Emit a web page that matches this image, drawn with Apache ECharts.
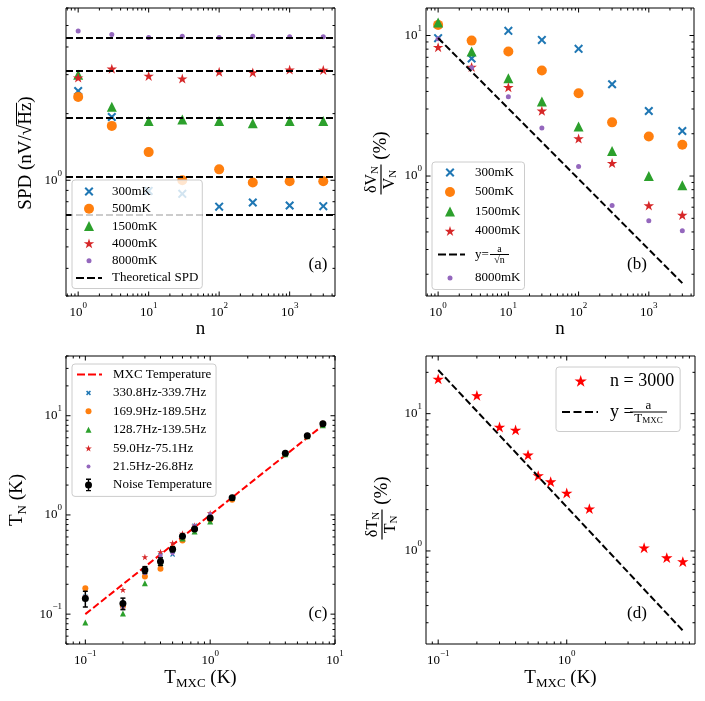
<!DOCTYPE html>
<html><head><meta charset="utf-8">
<script src="https://cdn.jsdelivr.net/npm/echarts@6.0.0/dist/echarts.min.js"></script>
<style>html,body{margin:0;padding:0;background:#fff;}#chart{width:705px;height:701px;}</style>
</head><body><div id="chart"></div>
<script>
// ================= DATA =================
const nValues = [1, 3, 10, 30, 100, 300, 1000, 3000];
const tempNames = ['300mK', '500mK', '1500mK', '4000mK', '8000mK'];
// (a) SPD (nV/sqrt(Hz))
const spd300  = [2.53, 1.93, 0.895, 0.868, 0.76, 0.793, 0.769, 0.764];
const spd500  = [2.38, 1.76, 1.34, 1.0, 1.12, 0.976, 0.99, 0.99];
const spd1500 = [3.0, 2.15, 1.85, 1.88, 1.85, 1.81, 1.85, 1.85];
const spd4000 = [2.9, 3.18, 2.95, 2.87, 3.08, 3.06, 3.15, 3.14];
const spd8000 = [4.72, 4.55, 4.42, 4.47, 4.42, 4.47, 4.45, 4.45];
const spdTheory = [0.698, 1.04, 1.92, 3.14, 4.42];
// (b) dV/V (%)
const rel300  = [9.58, 6.86, 10.8, 9.31, 8.04, 4.5, 2.9, 2.09];
const rel500  = [11.9, 9.2, 7.69, 5.63, 3.88, 2.41, 1.91, 1.67];
const rel1500 = [12.4, 7.69, 4.97, 3.39, 2.25, 1.51, 1.0, 0.86];
const rel4000 = [8.22, 5.95, 4.26, 2.9, 1.84, 1.23, 0.614, 0.525];
const rel8000 = [9.47, 5.9, 3.67, 2.2, 1.17, 0.618, 0.48, 0.408];
const fitBx = [1, 3000];
const fitBy = [9.6, 0.173];
// (c) T_N vs T_MXC (K)
const tMxc = [0.1, 0.2, 0.3, 0.4, 0.5, 0.6, 0.75, 1.0, 1.5, 4, 6, 8];
const bandNames = ['330.8Hz-339.7Hz', '169.9Hz-189.5Hz', '128.7Hz-139.5Hz', '59.0Hz-75.1Hz', '21.5Hz-26.8Hz'];
const tn330 = [0.15, 0.117, 0.265, 0.39, 0.40, 0.60, 0.78, 0.95, 1.45, 4.1, 6.2, 8.2];
const tn170 = [0.182, 0.12, 0.239, 0.286, 0.46, 0.553, 0.72, 0.9, 1.42, 4.1, 6.2, 8.3];
const tn129 = [0.0824, 0.1016, 0.205, 0.33, 0.45, 0.58, 0.68, 0.86, 1.48, 4.1, 6.2, 8.0];
const tn59  = [0.15, 0.175, 0.375, 0.421, 0.52, 0.647, 0.78, 1.04, 1.5, 4.2, 6.3, 8.4];
const tn21  = [0.15, 0.117, 0.258, 0.39, 0.41, 0.62, 0.78, 1.02, 1.5, 4.2, 6.3, 8.3];
const tnNoise = [0.144, 0.128, 0.279, 0.339, 0.452, 0.608, 0.72, 0.933, 1.49, 4.19, 6.27, 8.3];
const tnErr   = [0.026, 0.017, 0.022, 0.03, 0.025, 0.02, 0.02, 0.03, 0.04, 0.1, 0.12, 0.15];
const mxcX = [0.1, 8];
const mxcY = [0.1, 8];
// (d) dT/T (%) at n = 3000
const relT3000 = [17.8, 13.5, 7.95, 7.57, 4.98, 3.52, 3.18, 2.63, 2.02, 1.05, 0.889, 0.832];
const fitDx = [0.1, 8];
const fitDy = [20.8, 0.263];

// ================= STYLE / LAYOUT =================
const FONT = '"Liberation Serif", "Times New Roman", serif';
const C = {blue:'#1f77b4', orange:'#ff7f0e', green:'#2ca02c', red:'#d62728', purple:'#9467bd'};
const ranges = [
  {x:[0.672, 4400], y:[0.3, 6]},
  {x:[0.672, 4400], y:[0.14, 15.7]},
  {x:[0.07, 10],    y:[0.05, 40]},
  {x:[0.0804, 9.95], y:[0.21, 26.3]}
];
const gridBoxes = [
  {left:66, top:8, width:269, height:288},
  {left:426, top:8, width:268, height:288},
  {left:66, top:356, width:269, height:288},
  {left:426, top:356, width:269, height:288}
];

// ---- symbol geometry ----
function f(v){ return (+v).toFixed(2); }
function circ(cx, cy, r){ return `M${f(cx-r)},${f(cy)}A${r},${r} 0 1 1 ${f(cx+r)},${f(cy)}A${r},${r} 0 1 1 ${f(cx-r)},${f(cy)}Z`; }
function tri(cx, cy, s){ const h=s/2; return `M${f(cx)},${f(cy-h)}L${f(cx+h)},${f(cy+h)}L${f(cx-h)},${f(cy+h)}Z`; }
function star(cx, cy, R){ let d=''; const r=R*0.381966; for(let k=0;k<10;k++){ const a=k*Math.PI/5, rr=k%2?r:R; d+=(k?'L':'M')+f(cx+rr*Math.sin(a))+','+f(cy-rr*Math.cos(a)); } return d+'Z'; }
function xmk(cx, cy, s, t){ const h=s/2; const P=[[cx-h,cy-h+t],[cx-h+t,cy-h],[cx,cy-t],[cx+h-t,cy-h],[cx+h,cy-h+t],[cx+t,cy],[cx+h,cy+h-t],[cx+h-t,cy+h],[cx,cy+t],[cx-h+t,cy+h],[cx-h,cy+h-t],[cx-t,cy]]; return P.map((p,i)=>(i?'L':'M')+f(p[0])+','+f(p[1])).join('')+'Z'; }
function dashes(y, x0, x1, lw, on, off){ let d='', x=x0; while(x < x1-0.01){ const e=Math.min(x+on,x1); d+=`M${f(x)},${f(y-lw/2)}L${f(e)},${f(y-lw/2)}L${f(e)},${f(y+lw/2)}L${f(x)},${f(y+lw/2)}Z`; x+=on+off; } return d; }
function box(W,H){ return `path://M0,0M${W},${H}`; }

const symX = 'path://' + xmk(5,5,10,1.6);
const symStar = 'path://M0,0M100,100' + star(50,52,50);

// ---- helpers ----
function pairs(xs, ys){ return xs.map((x,i)=>[x, ys[i]]); }
function scatter(name, gi, xs, ys, symbol, size, color, z){
  return {type:'scatter', name, xAxisIndex:gi, yAxisIndex:gi, symbol, symbolSize:size, symbolKeepAspect:true,
    itemStyle:{color, opacity:1}, data:pairs(xs, ys), z:z||2, silent:true, animation:false};
}
function dashLine(name, gi, xs, ys, color, z){
  return {type:'line', name, xAxisIndex:gi, yAxisIndex:gi, data:pairs(xs, ys), symbol:'none', showSymbol:false,
    lineStyle:{color, width:2, type:[7,3]}, itemStyle:{color}, z:z||3, silent:true, animation:false};
}
function powLabel(v){
  const e = Math.log10(v), r = Math.round(e);
  if (Math.abs(e-r) > 1e-6) return '';
  return '{b|10}{s|' + (r<0 ? '\u2212'+(-r) : r) + '}';
}
const supRich = {
  b:{fontFamily:FONT, fontSize:13, color:'#000', verticalAlign:'middle'},
  s:{fontFamily:FONT, fontSize:9, color:'#000', padding:[0,0,14,0], verticalAlign:'middle'}
};
function logAxis(gi, r, isX, name, nameRich){
  const ax = {type:'log', logBase:10, gridIndex:gi, min:r[0], max:r[1],
    axisLine:{show:false}, axisTick:{show:false}, minorTick:{show:false}, splitLine:{show:false}, minorSplitLine:{show:false},
    axisLabel:{formatter:powLabel, rich:supRich, margin:isX?5:4, hideOverlap:false, showMinLabel:true, showMaxLabel:true, color:'#000'},
    silent:true};
  if (name){
    ax.name = name; ax.nameLocation = 'middle'; ax.nameGap = 22;
    ax.nameTextStyle = Object.assign({fontFamily:FONT, fontSize:19, color:'#000'}, nameRich ? {rich:nameRich} : {});
  }
  return ax;
}
function tickList(lo, hi){
  const out=[];
  for (let e=Math.floor(Math.log10(lo))-1; e<=Math.ceil(Math.log10(hi)); e++){
    for (let m=1;m<10;m++){ const v=m*Math.pow(10,e); if (v>=lo*0.9999 && v<=hi*1.0001) out.push([v, m===1]); }
  }
  return out;
}
// tick marks on all four sides, drawn as tiny rect symbols placed through the axes' own scales
function tickSeries(gi){
  const r = ranges[gi];
  const data = [];
  tickList(r.x[0], r.x[1]).forEach(t=>{
    const L = t[1] ? 4.5 : 2.5;
    data.push({value:[t[0], r.y[0]], symbolSize:[1, L], symbolOffset:[0, -L/2]});
    data.push({value:[t[0], r.y[1]], symbolSize:[1, L], symbolOffset:[0, L/2]});
  });
  tickList(r.y[0], r.y[1]).forEach(t=>{
    const L = t[1] ? 4.5 : 2.5;
    data.push({value:[r.x[0], t[0]], symbolSize:[L, 1], symbolOffset:[L/2, 0]});
    data.push({value:[r.x[1], t[0]], symbolSize:[L, 1], symbolOffset:[-L/2, 0]});
  });
  return {type:'scatter', name:'ticks'+gi, xAxisIndex:gi, yAxisIndex:gi, symbol:'rect', clip:false, silent:true,
    itemStyle:{color:'#000', opacity:1}, data, z:10, animation:false};
}

// ---- series ----
const series = [];
// (a)
series.push(scatter('300mK',0,nValues,spd300,symX,9,C.blue));
series.push(scatter('500mK',0,nValues,spd500,'circle',10,C.orange));
series.push(scatter('1500mK',0,nValues,spd1500,'triangle',10,C.green));
series.push(scatter('4000mK',0,nValues,spd4000,symStar,11,C.red));
series.push(scatter('8000mK',0,nValues,spd8000,'circle',5,C.purple));
series.push({type:'line', name:'Theoretical SPD', xAxisIndex:0, yAxisIndex:0, data:[], symbol:'none',
  lineStyle:{color:'#000', width:2, type:[7,3]}, itemStyle:{color:'#000'}, z:3, silent:true, animation:false,
  markLine:{silent:true, symbol:'none', label:{show:false}, animation:false,
    lineStyle:{color:'#000', width:2, type:[7,3]}, emphasis:{disabled:true},
    data: spdTheory.map(v=>({yAxis:v}))}});
// (b)
series.push(scatter('300mK',1,nValues,rel300,symX,9,C.blue));
series.push(scatter('500mK',1,nValues,rel500,'circle',10,C.orange));
series.push(scatter('1500mK',1,nValues,rel1500,'triangle',10,C.green));
series.push(scatter('4000mK',1,nValues,rel4000,symStar,11,C.red));
series.push(dashLine('fitB',1,fitBx,fitBy,'#000'));
series.push(scatter('8000mK',1,nValues,rel8000,'circle',5,C.purple));
// (c)
series.push(dashLine('MXC Temperature',2,mxcX,mxcY,'#ff0000',2));
series.push(scatter(bandNames[0],2,tMxc,tn330,symX,5,C.blue,3));
series.push(scatter(bandNames[1],2,tMxc,tn170,'circle',6,C.orange,3));
series.push(scatter(bandNames[2],2,tMxc,tn129,'triangle',6,C.green,3));
series.push(scatter(bandNames[3],2,tMxc,tn59,symStar,7,C.red,3));
series.push(scatter(bandNames[4],2,tMxc,tn21,'circle',4,C.purple,3));
series.push(scatter('Noise Temperature',2,tMxc,tnNoise,'circle',7,'#000',5));
series.push({type:'custom', name:'Noise Temperature', xAxisIndex:2, yAxisIndex:2, z:5, silent:true, animation:false,
  itemStyle:{color:'#000'},
  data: tMxc.map((x,i)=>[x, tnNoise[i]-tnErr[i], tnNoise[i]+tnErr[i]]),
  renderItem:function(params, api){
    const lo = api.coord([api.value(0), api.value(1)]);
    const hi = api.coord([api.value(0), api.value(2)]);
    const st = {stroke:'#000', lineWidth:1.5};
    return {type:'group', children:[
      {type:'line', shape:{x1:lo[0],y1:lo[1],x2:hi[0],y2:hi[1]}, style:st},
      {type:'line', shape:{x1:lo[0]-2.5,y1:lo[1],x2:lo[0]+2.5,y2:lo[1]}, style:st},
      {type:'line', shape:{x1:hi[0]-2.5,y1:hi[1],x2:hi[0]+2.5,y2:hi[1]}, style:st}]};
  }});
// (d)
series.push(scatter('n = 3000',3,tMxc,relT3000,symStar,12,'#ff0000',3));
series.push(dashLine('fitD',3,fitDx,fitDy,'#000',4));
// ticks
for (let g=0; g<4; g++) series.push(tickSeries(g));

// ---- legends ----
const legendBase = {orient:'vertical', backgroundColor:'rgba(255,255,255,0.8)', borderColor:'#cccccc', borderWidth:1,
  borderRadius:3, selectedMode:false, itemStyle:{borderWidth:0}, inactiveColor:'#000', z:20};
function mkIcon(W,H,body){ return box(W,H) + body; }
// A
const lA = {W:31, H:13, cx:13};
const legendA = Object.assign({}, legendBase, {left:72, top:180, padding:[5,4,4,4], itemGap:4.3, itemWidth:lA.W, itemHeight:lA.H,
  textStyle:{fontFamily:FONT, fontSize:13, lineHeight:13, color:'#000'},
  data:[
    {name:'300mK', icon:mkIcon(lA.W,lA.H,xmk(lA.cx,6.5,9,1.45))},
    {name:'500mK', icon:mkIcon(lA.W,lA.H,circ(lA.cx,6.5,5))},
    {name:'1500mK', icon:mkIcon(lA.W,lA.H,tri(lA.cx,6.5,10))},
    {name:'4000mK', icon:mkIcon(lA.W,lA.H,star(lA.cx,7,5.5))},
    {name:'8000mK', icon:mkIcon(lA.W,lA.H,circ(lA.cx,6.5,2.5))},
    {name:'Theoretical SPD', icon:mkIcon(lA.W,lA.H,dashes(6.5,0,26,2,8,3))}
  ]});
// B
const lB = {W:34, H:13, cx:14};
const fracRichB = {
  fp:{width:15, fontSize:9, lineHeight:9, align:'left', verticalAlign:'middle'},
  fn:{width:19, fontSize:10, lineHeight:9, align:'center', verticalAlign:'middle', fontFamily:FONT, color:'#000'},
  fy:{width:15, fontSize:13, lineHeight:2, align:'left', verticalAlign:'middle', fontFamily:FONT, color:'#000'},
  fb:{width:19, height:1, fontSize:1, lineHeight:2, align:'left', verticalAlign:'middle', backgroundColor:'#000'},
  fd:{width:19, fontSize:10, lineHeight:9, align:'center', verticalAlign:'middle', fontFamily:FONT, color:'#000'}
};
const legendB = Object.assign({}, legendBase, {left:432, top:162, padding:[4,4,5,4], itemGap:6.5, itemWidth:lB.W, itemHeight:lB.H,
  textStyle:{fontFamily:FONT, fontSize:13, lineHeight:13, color:'#000', rich:fracRichB},
  formatter:function(name){ return name==='fitB' ? '{fp| }{fn|a}\n{fy|y=}{fb| }\n{fp| }{fd|\u221an}' : name; },
  data:[
    {name:'300mK', icon:mkIcon(lB.W,lB.H,xmk(lB.cx,6.5,9,1.45))},
    {name:'500mK', icon:mkIcon(lB.W,lB.H,circ(lB.cx,6.5,5))},
    {name:'1500mK', icon:mkIcon(lB.W,lB.H,tri(lB.cx,6.5,10))},
    {name:'4000mK', icon:mkIcon(lB.W,lB.H,star(lB.cx,7,5.5))},
    {name:'fitB', icon:mkIcon(lB.W,lB.H,dashes(6.5,2,29,2,8,3))},
    {name:'8000mK', icon:mkIcon(lB.W,lB.H,circ(lB.cx,6.5,2.5))}
  ]});
// C
const lC = {W:32, H:13, cx:12.5};
const legendC = Object.assign({}, legendBase, {left:72, top:364, padding:[4,4,5,4], itemGap:5.4, itemWidth:lC.W, itemHeight:lC.H,
  textStyle:{fontFamily:FONT, fontSize:13, lineHeight:13, color:'#000'},
  data:[
    {name:'MXC Temperature', icon:mkIcon(lC.W,lC.H,dashes(6.5,1,26,2,8,3))},
    {name:bandNames[0], icon:mkIcon(lC.W,lC.H,xmk(lC.cx,6.5,5,1.1))},
    {name:bandNames[1], icon:mkIcon(lC.W,lC.H,circ(lC.cx,6.5,3))},
    {name:bandNames[2], icon:mkIcon(lC.W,lC.H,tri(lC.cx,6.5,6))},
    {name:bandNames[3], icon:mkIcon(lC.W,lC.H,star(lC.cx,7,3.5))},
    {name:bandNames[4], icon:mkIcon(lC.W,lC.H,circ(lC.cx,6.5,2))},
    {name:'Noise Temperature', icon:mkIcon(lC.W,lC.H,
      `M${lC.cx-2.5},0.2h5v1.3h-5zM${lC.cx-0.7},0.2h1.4v12.6h-1.4zM${lC.cx-2.5},11.5h5v1.3h-5z`+circ(lC.cx,6.5,3.5))}
  ]});
// D
const lD = {W:43, H:18, cx:18.7};
const fracRichD = {
  fp:{width:20, fontSize:9, lineHeight:11, align:'left', verticalAlign:'middle'},
  fn:{width:37, fontSize:13, lineHeight:11, align:'center', verticalAlign:'middle', fontFamily:FONT, color:'#000'},
  fy:{width:20, fontSize:18, lineHeight:2, align:'left', verticalAlign:'middle', fontFamily:FONT, color:'#000'},
  fb:{width:37, height:1.2, fontSize:1, lineHeight:2, align:'left', verticalAlign:'middle', backgroundColor:'#000'},
  fT:{fontSize:13, lineHeight:11, align:'center', verticalAlign:'middle', fontFamily:FONT, color:'#000'},
  fS:{fontSize:9, padding:[5,0,0,0], lineHeight:11, align:'center', verticalAlign:'middle', fontFamily:FONT, color:'#000'}
};
const legendD = Object.assign({}, legendBase, {left:556, top:367, padding:[5,6,6,6], itemGap:9, itemWidth:lD.W, itemHeight:lD.H,
  textStyle:{fontFamily:FONT, fontSize:18, lineHeight:18, color:'#000', rich:fracRichD},
  formatter:function(name){ return name==='fitD' ? '{fp| }{fn|a}\n{fy|y =}{fb| }\n{fp| }{fT|T}{fS|MXC}' : name; },
  data:[
    {name:'n = 3000', icon:mkIcon(lD.W,lD.H,star(lD.cx,9.5,6.5))},
    {name:'fitD', icon:mkIcon(lD.W,lD.H,dashes(9,0,36,2,8,3.5))}
  ]});

// ---- axis titles (y: rotated rich text) and panel tags ----
function txt(x, y, text, size, rich, rot){
  return {type:'text', x, y, rotation:rot||0, silent:true, z:30,
    style:{text, fill:'#000', fontFamily:FONT, fontSize:size, align:'center', verticalAlign:'middle',
      textAlign:'center', textVerticalAlign:'middle', rich:rich||{}}};
}
const R90 = Math.PI/2;
const titleA = txt(26, 153, '{o1| }{ob| }{o3| }\n{t1|SPD (nV/\u221a}{t2|Hz}{t3|)}', 19, {
  o1:{width:85, height:1, lineHeight:1, fontSize:1, align:'center'},
  ob:{width:22, height:1, lineHeight:1, fontSize:1, align:'center', backgroundColor:'#000'},
  o3:{width:6.5, height:1, lineHeight:1, fontSize:1, align:'center'},
  t1:{width:85, fontSize:19, lineHeight:19, fontFamily:FONT, align:'center', color:'#000'},
  t2:{width:22, fontSize:19, lineHeight:19, fontFamily:FONT, align:'center', color:'#000'},
  t3:{width:6.5, fontSize:19, lineHeight:19, fontFamily:FONT, align:'center', color:'#000'}
}, R90);
function fracRich(){
  return {
    n:{fontSize:16, lineHeight:15, fontFamily:FONT, align:'center', color:'#000'},
    ns:{fontSize:11, padding:[6,0,0,0], lineHeight:15, fontFamily:FONT, align:'center', color:'#000'},
    pr:{width:33, fontSize:1, lineHeight:15, align:'center'},
    bar:{width:30, height:1.2, fontSize:1, lineHeight:3, align:'center', backgroundColor:'#000'},
    pc:{width:33, fontSize:19, lineHeight:3, fontFamily:FONT, align:'center', color:'#000'}
  };
}
const titleB = txt(381, 163, '{n|\u03b4V}{ns|N}{pr| }\n{bar| }{pc| (%)}\n{n|V}{ns|N}{pr| }', 16, fracRich(), R90);
const titleC = txt(17, 500, '{t|T}{s|N}{t| (K)}', 19, {
  t:{fontSize:19, fontFamily:FONT, color:'#000'},
  s:{fontSize:13, padding:[11,0,0,0], fontFamily:FONT, color:'#000'}
}, R90);
const titleD = txt(382, 508, '{n|\u03b4T}{ns|N}{pr| }\n{bar| }{pc| (%)}\n{n|T}{ns|N}{pr| }', 16, fracRich(), R90);
const tags = [txt(318, 265, '(a)', 17), txt(637, 265, '(b)', 17), txt(318, 614, '(c)', 17), txt(637, 614, '(d)', 17)];

const tmxcRich = {
  t:{fontSize:19, fontFamily:FONT, color:'#000'},
  s:{fontSize:13, padding:[11,0,0,0], fontFamily:FONT, color:'#000'}
};

const option = {
  animation:false,
  backgroundColor:'#ffffff',
  textStyle:{fontFamily:FONT},
  grid: gridBoxes.map(g=>Object.assign({show:true, borderColor:'#000', borderWidth:1, backgroundColor:'transparent', containLabel:false, outerBoundsMode:'none'}, g)),
  xAxis:[
    logAxis(0, ranges[0].x, true, 'n'),
    logAxis(1, ranges[1].x, true, 'n'),
    logAxis(2, ranges[2].x, true, '{t|T}{s|MXC}{t| (K)}', tmxcRich),
    logAxis(3, ranges[3].x, true, '{t|T}{s|MXC}{t| (K)}', tmxcRich)
  ],
  yAxis:[
    logAxis(0, ranges[0].y, false),
    logAxis(1, ranges[1].y, false),
    logAxis(2, ranges[2].y, false),
    logAxis(3, ranges[3].y, false)
  ],
  legend:[legendA, legendB, legendC, legendD],
  graphic:[titleA, titleB, titleC, titleD].concat(tags),
  series
};
const chart = echarts.init(document.getElementById('chart'), null, {renderer:'canvas'});
chart.setOption(option);
</script></body></html>
